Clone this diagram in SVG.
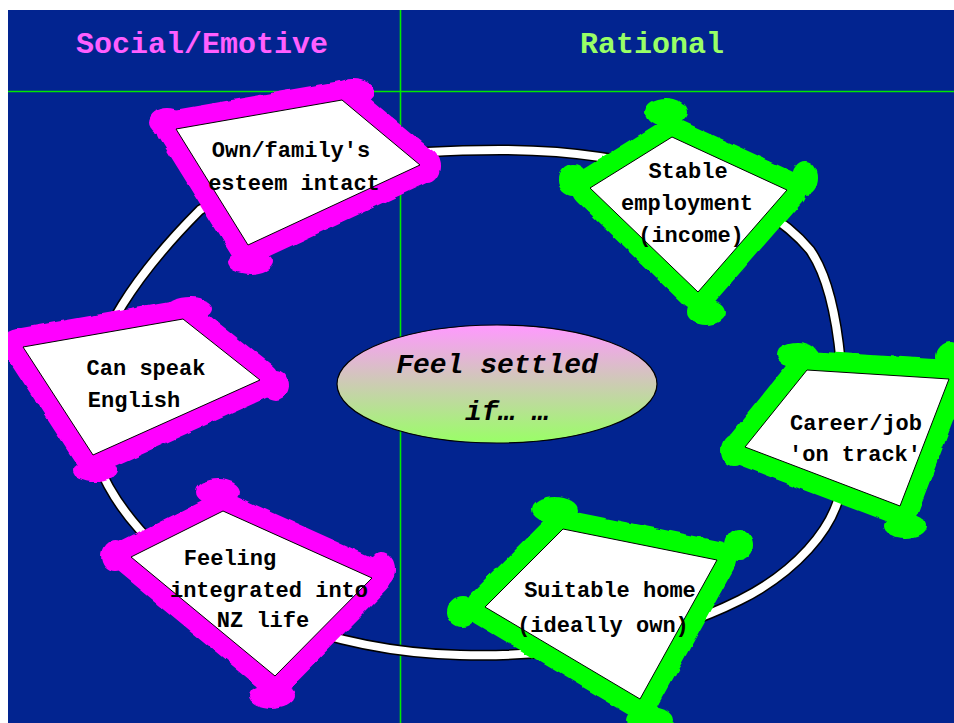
<svg xmlns="http://www.w3.org/2000/svg" width="954" height="723" viewBox="0 0 954 723">
<defs>
<clipPath id="area"><rect x="8" y="10" width="946" height="713"/></clipPath>
<linearGradient id="grad" x1="0" y1="0" x2="0" y2="1">
<stop offset="0" stop-color="#FF99FF"/>
<stop offset="1" stop-color="#99FF66"/>
</linearGradient>
<filter id="rough" x="-10%" y="-10%" width="120%" height="120%">
<feTurbulence type="fractalNoise" baseFrequency="0.06" numOctaves="2" seed="3"/>
<feDisplacementMap in="SourceGraphic" scale="5" xChannelSelector="R" yChannelSelector="G"/>
</filter>
<style>
.frame{filter:url(#rough)}
.mag .band{fill:none;stroke:#FF00FF;stroke-width:38;stroke-linejoin:round}
.mag .blob{fill:#FF00FF}
.grn .band{fill:none;stroke:#00FF00;stroke-width:38;stroke-linejoin:round}
.grn .blob{fill:#00FF00}
.card{fill:#FFFFFF;stroke:#000000;stroke-width:1}
.lbl{font-family:"Liberation Mono","Courier New",monospace;font-weight:bold;font-size:22px;fill:#000000;text-anchor:middle}
.hdr{font-family:"Liberation Mono","Courier New",monospace;font-weight:bold;font-size:30px;text-anchor:middle}
.grid{stroke:#00E800;stroke-width:1.6}
.ringout{fill:none;stroke:#000000;stroke-width:11}
.ringin{fill:none;stroke:#FFFFFF;stroke-width:8}
</style>
</defs>
<rect x="0" y="0" width="954" height="723" fill="#FFFFFF"/>
<rect x="8" y="10" width="946" height="713" fill="#022490"/>
<g clip-path="url(#area)">
<g id="grid">
<line class="grid" x1="8" y1="91.5" x2="954" y2="91.5"/>
<line class="grid" x1="400.5" y1="10" x2="400.5" y2="723"/>
</g>
<text class="hdr" x="202" y="53" fill="#FF5FFF">Social/Emotive</text>
<text class="hdr" x="652" y="53" fill="#99FF66">Rational</text>

<g id="connectors">
<path class="ringout" d="M 500,150 C 640,150 760,190 810,250 C 845,300 846,420 842,480 C 838,530 790,575 740,600 C 660,640 560,658 460,655 C 330,652 200,600 140,530 C 100,485 85,440 88,400 C 90,340 140,270 200,210 C 280,160 400,150 500,150 Z"/>
<path class="ringin" d="M 500,150 C 640,150 760,190 810,250 C 845,300 846,420 842,480 C 838,530 790,575 740,600 C 660,640 560,658 460,655 C 330,652 200,600 140,530 C 100,485 85,440 88,400 C 90,340 140,270 200,210 C 280,160 400,150 500,150 Z"/>
</g>

<g id="center">
<ellipse cx="497" cy="384" rx="160" ry="59" fill="url(#grad)" stroke="#000000" stroke-width="1.2"/>
<text x="497" y="373" font-family="Liberation Mono, Courier New, monospace" font-weight="bold" font-style="italic" font-size="28" text-anchor="middle" fill="#000000">Feel settled</text>
<text x="507" y="420" font-family="Liberation Mono, Courier New, monospace" font-weight="bold" font-style="italic" font-size="28" text-anchor="middle" fill="#000000">if… …</text>
</g>

<g id="node-esteem" class="mag">
<g class="frame">
<polygon class="band" points="176,129 342,100 420,165 248,245"/>
<ellipse class="blob" cx="168" cy="122" rx="19" ry="14"/>
<ellipse class="blob" cx="352" cy="92" rx="23" ry="13"/>
<ellipse class="blob" cx="427" cy="166" rx="13" ry="17"/>
<ellipse class="blob" cx="250" cy="262" rx="23" ry="12"/>
</g>
<polygon class="card" points="176,129 342,100 420,165 248,245"/>
<text class="lbl" x="291" y="157">Own/family's</text>
<text class="lbl" x="294" y="190">esteem intact</text>
</g>

<g id="node-employment" class="grn">
<g class="frame">
<polygon class="band" points="672,137 787,190 698,292 590,188"/>
<ellipse class="blob" cx="666" cy="112" rx="21" ry="14"/>
<ellipse class="blob" cx="805" cy="178" rx="13" ry="17"/>
<ellipse class="blob" cx="706" cy="312" rx="19" ry="13"/>
<ellipse class="blob" cx="573" cy="180" rx="15" ry="16"/>
</g>
<polygon class="card" points="672,137 787,190 698,292 590,188"/>
<text class="lbl" x="688" y="178">Stable</text>
<text class="lbl" x="687" y="210">employment</text>
<text class="lbl" x="691" y="242">(income)</text>
</g>

<g id="node-english" class="mag">
<g class="frame">
<polygon class="band" points="23,347 183,319 260,380 93,455"/>
<ellipse class="blob" cx="18" cy="342" rx="17" ry="14"/>
<ellipse class="blob" cx="190" cy="308" rx="23" ry="11"/>
<ellipse class="blob" cx="275" cy="385" rx="14" ry="15"/>
<ellipse class="blob" cx="95" cy="471" rx="23" ry="11"/>
</g>
<polygon class="card" points="23,347 183,319 260,380 93,455"/>
<text class="lbl" x="146" y="375">Can speak</text>
<text class="lbl" x="134" y="407">English</text>
</g>

<g id="node-career" class="grn">
<g class="frame">
<polygon class="band" points="807,370 949,379 900,506 745,447"/>
<ellipse class="blob" cx="797" cy="355" rx="21" ry="13"/>
<ellipse class="blob" cx="950" cy="357" rx="15" ry="15"/>
<ellipse class="blob" cx="905" cy="526" rx="21" ry="12"/>
<ellipse class="blob" cx="734" cy="450" rx="13" ry="16"/>
</g>
<polygon class="card" points="807,370 949,379 900,506 745,447"/>
<text class="lbl" x="856" y="430">Career/job</text>
<text class="lbl" x="855" y="461">'on track'</text>
</g>

<g id="node-integrated" class="mag">
<g class="frame">
<polygon class="band" points="223,511 372,578 275,676 131,557"/>
<ellipse class="blob" cx="218" cy="492" rx="22" ry="13"/>
<ellipse class="blob" cx="382" cy="569" rx="14" ry="17"/>
<ellipse class="blob" cx="272" cy="696" rx="23" ry="12"/>
<ellipse class="blob" cx="115" cy="556" rx="14" ry="16"/>
</g>
<polygon class="card" points="223,511 372,578 275,676 131,557"/>
<text class="lbl" x="230" y="565">Feeling</text>
<text class="lbl" x="269" y="597">integrated into</text>
<text class="lbl" x="263" y="627">NZ life</text>
</g>

<g id="node-home" class="grn">
<g class="frame">
<polygon class="band" points="563,529 717,560 640,699 485,607"/>
<ellipse class="blob" cx="555" cy="510" rx="23" ry="13"/>
<ellipse class="blob" cx="739" cy="545" rx="14" ry="16"/>
<ellipse class="blob" cx="650" cy="720" rx="23" ry="13"/>
<ellipse class="blob" cx="462" cy="612" rx="15" ry="16"/>
</g>
<polygon class="card" points="563,529 717,560 640,699 485,607"/>
<text class="lbl" x="610" y="597">Suitable home</text>
<text class="lbl" x="603" y="632">(ideally own)</text>
</g>
</g>
</svg>
